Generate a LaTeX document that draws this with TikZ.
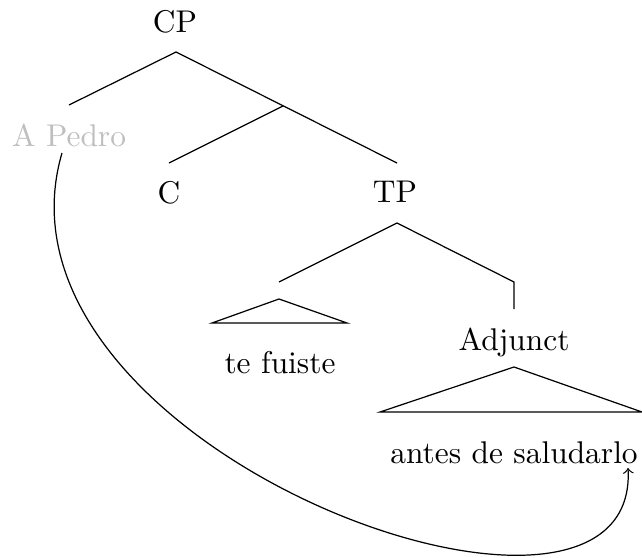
\documentclass[tikz,border=0pt]{standalone}
\begin{document}
\begin{tikzpicture}[x=0.3279pt, y=-0.3279pt,
  lbl/.style={anchor=base, inner sep=0pt, font=\fontsize{10.3}{12}\selectfont},
  branch/.style={line width=0.4pt},
  faded/.style={text=gray!50}]
\useasboundingbox (0,0) rectangle (642,558);
% labels
\node[lbl] (cp) at (175,32.7) {CP};
\node[lbl, faded] (pedro) at (69,146.7) {A Pedro};
\node[lbl] (c) at (169,203.5) {C};
\node[lbl] (tp) at (395,203) {TP};
\node[lbl] (fuiste) at (280,373.3) {te fuiste};
\node[lbl] (adj) at (514,350.7) {Adjunct};
\node[lbl] (sal) at (514,463.3) {antes de saludarlo};
% branch points
\coordinate (cpt) at (176,52);
\coordinate (pedrot) at (69,105);
\coordinate (cbar) at (283,106);
\coordinate (ct) at (169,163);
\coordinate (tpt0) at (397,163);
\coordinate (tpt) at (397,223);
\coordinate (vpl) at (279,282);
\coordinate (vpr) at (514,282);
\coordinate (adjt) at (514,309);
\coordinate (tri1a) at (279,299);
\coordinate (tri1l) at (212,323);
\coordinate (tri1r) at (347,323);
\coordinate (tri2a) at (514,367);
\coordinate (tri2l) at (380,412);
\coordinate (tri2r) at (642,412);
% tree lines
\draw[branch] (pedrot) -- (cpt) -- (tpt0);
\draw[branch] (cbar) -- (ct);
\draw[branch] (vpl) -- (tpt) -- (vpr) -- (adjt);
\draw[branch] (tri1l) -- (tri1a) -- (tri1r) -- cycle;
\draw[branch] (tri2l) -- (tri2a) -- (tri2r) -- cycle;
% movement arrow
\coordinate (mvs) at (62,153);
\coordinate (mve) at (628,468);
\draw[->] (mvs) .. controls (-25,450) and (640,690) .. (mve);
\end{tikzpicture}
\end{document}
